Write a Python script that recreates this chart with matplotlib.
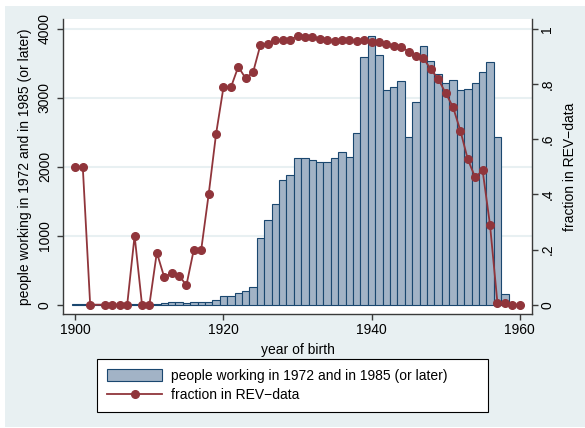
import matplotlib
matplotlib.use("Agg")
import matplotlib.pyplot as plt
from matplotlib.patches import Rectangle
import numpy as np

plt.rcParams['font.family'] = ['Liberation Sans', 'DejaVu Sans']

# bars: people working in 1972 and in 1985 (or later), by year of birth
bar_years = list(range(1900, 1959))
bar_counts = [3, 3, 3, 3, 3, 3, 3, 3, 4, 5,
              10, 15, 24, 34, 34, 29, 34, 34, 34, 68,
              126, 126, 164, 203, 256, 972, 1229, 1456, 1809, 1877,
              2128, 2128, 2099, 2065, 2075, 2128, 2210, 2148, 2486, 3594,
              3894, 3618, 3110, 3154, 3246, 2433, 2946, 3753, 3541, 3352,
              3221, 3265, 3115, 3134, 3212, 3371, 3521, 2428, 160]

# line: fraction in REV-data
line_years = [1900, 1901, 1902, 1904, 1905, 1906, 1907, 1908, 1909, 1910,
              1911, 1912, 1913, 1914, 1915, 1916, 1917, 1918, 1919, 1920,
              1921, 1922, 1923, 1924, 1925, 1926, 1927, 1928, 1929, 1930,
              1931, 1932, 1933, 1934, 1935, 1936, 1937, 1938, 1939, 1940,
              1941, 1942, 1943, 1944, 1945, 1946, 1947, 1948, 1949, 1950,
              1951, 1952, 1953, 1954, 1955, 1956, 1957, 1958, 1959, 1960]
line_frac = [0.50, 0.50, 0.0, 0.0, 0.0, 0.0, 0.0, 0.25, 0.0, 0.0,
             0.189, 0.100, 0.115, 0.105, 0.071, 0.20, 0.20, 0.40, 0.619, 0.788,
             0.788, 0.863, 0.821, 0.843, 0.943, 0.946, 0.960, 0.960, 0.960, 0.975,
             0.970, 0.970, 0.965, 0.960, 0.955, 0.960, 0.960, 0.955, 0.960, 0.954,
             0.954, 0.944, 0.938, 0.936, 0.918, 0.903, 0.894, 0.854, 0.819, 0.768,
             0.717, 0.631, 0.527, 0.462, 0.487, 0.289, 0.007, 0.007, 0.0, 0.0]

x_ticks = [1900, 1920, 1940, 1960]
left_ticks = [0, 1000, 2000, 3000, 4000]
right_ticks = [0, 0.2, 0.4, 0.6, 0.8, 1.0]
right_ticklabels = ["0", ".2", ".4", ".6", ".8", "1"]

bar_label = "people working in 1972 and in 1985 (or later)"
line_label = "fraction in REV\u2212data"

BG = "#E8F0F2"
BAR_FILL = "#A2B3C6"
BAR_EDGE = "#1A476F"
LINE_C = "#90353B"
AX_C = "#3a3a3a"

W, H = 585, 428
fig = plt.figure(figsize=(W / 100, H / 100), dpi=100, facecolor="white")
fig.add_artist(Rectangle((5 / W, 1 / H), (W - 5) / W, (H - 7) / H,
                         transform=fig.transFigure, facecolor=BG,
                         edgecolor="none", zorder=-10))

ax = fig.add_axes([63 / W, 1 - 314 / H, (532 - 63) / W, (314 - 19) / H])
ax.set_facecolor("white")
ax.bar(bar_years, bar_counts, width=1.0, color=BAR_FILL, edgecolor=BAR_EDGE,
       linewidth=0.8, label=bar_label, zorder=2)
ax.set_xlim(1898.33, 1961.67)
ax.set_ylim(-135, 4145)
ax.set_yticks(left_ticks)
ax.set_yticklabels([str(t) for t in left_ticks], rotation=90, va="center")
ax.set_xticks(x_ticks)
for t in left_ticks[1:]:
    ax.axhline(t, color=BG, linewidth=1.5, zorder=0)
ax.spines["top"].set_visible(False)
ax.spines["right"].set_visible(False)
for s in ["left", "bottom"]:
    ax.spines[s].set_color(AX_C)
    ax.spines[s].set_linewidth(1.0)
ax.tick_params(axis="both", colors=AX_C, labelcolor="black", length=4,
               width=1.0, labelsize=10)
ax.tick_params(axis="y", pad=4)
ax.tick_params(axis="x", pad=2.5)
ax.set_xlabel("year of birth", fontsize=10, labelpad=4)
ax.set_ylabel(bar_label, fontsize=10, labelpad=4)

ax2 = ax.twinx()
ax2.plot(line_years, line_frac, color=LINE_C, linewidth=1.3, marker="o",
         markersize=5.5, markerfacecolor=LINE_C, markeredgecolor=LINE_C,
         label=line_label, zorder=3)
ax2.set_ylim(-0.0337, 1.0362)
ax2.set_yticks(right_ticks)
ax2.set_yticklabels(right_ticklabels, rotation=90, va="center")
ax2.spines["top"].set_visible(False)
ax2.spines["left"].set_visible(False)
ax2.spines["bottom"].set_visible(False)
ax2.spines["right"].set_color(AX_C)
ax2.spines["right"].set_linewidth(1.0)
ax2.tick_params(axis="y", colors=AX_C, labelcolor="black", length=4,
                width=1.0, labelsize=10, pad=2)
ax2.set_ylabel(line_label, fontsize=10, labelpad=6)

h1, l1 = ax.get_legend_handles_labels()
h2, l2 = ax2.get_legend_handles_labels()
leg = fig.legend(h1 + h2, l1 + l2, loc="upper left",
                 bbox_to_anchor=(97 / W, 1 - 410 / H, (488 - 97) / W, (410 - 359) / H),
                 mode="expand", fontsize=10, frameon=True, fancybox=False,
                 edgecolor="black", facecolor="white", framealpha=1,
                 handlelength=4.0, handleheight=1.0, handletextpad=0.6,
                 borderpad=0.7, labelspacing=0.4, borderaxespad=0)
leg.get_frame().set_linewidth(0.8)

fig.savefig("out.png", dpi=100, facecolor="white")
